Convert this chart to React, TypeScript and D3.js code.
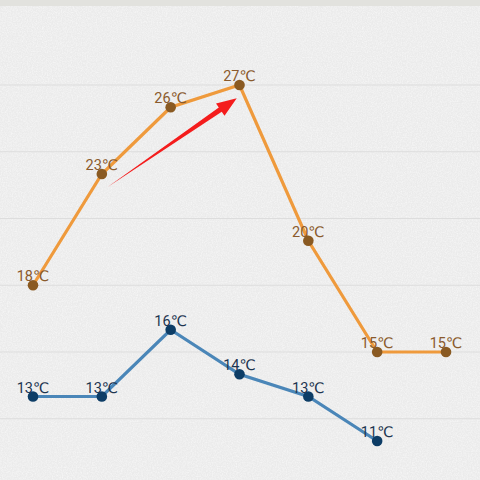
import React from 'react';
import * as d3 from 'd3';

const days = ['d1', 'd2', 'd3', 'd4', 'd5', 'd6', 'd7'];
const highTemps = [18, 23, 26, 27, 20, 15, 15];
const lowTemps = [13, 13, 16, 14, 13, 11];
const gridValues = [27, 24, 21, 18, 15, 12];
// arrow annotation: from (day index, temp) to (day index, temp)
const arrowFrom = { i: 1.08, v: 22.4 };
const arrowTo = { i: 2.96, v: 26.4 };

const W = 480;
const H = 480;

export default function App() {
  const x = d3.scalePoint<string>().domain(days).range([33, 446]);
  const y = d3.scaleLinear().domain([15, 27]).range([352, 85]);
  const xi = d3.scaleLinear().domain([0, days.length - 1]).range([33, 446]);

  const line = d3
    .line<number>()
    .x((_, i) => x(days[i])!)
    .y((d) => y(d));

  // arrow polygon
  const x0 = xi(arrowFrom.i), y0 = y(arrowFrom.v);
  const x1 = xi(arrowTo.i), y1 = y(arrowTo.v);
  const len = Math.hypot(x1 - x0, y1 - y0);
  const ux = (x1 - x0) / len, uy = (y1 - y0) / len;
  const nx = -uy, ny = ux;
  const headLen = 20, headW = 7.5, shaftW = 2.6;
  const bx = x1 - ux * headLen, by = y1 - uy * headLen;
  const arrowPts: [number, number][] = [
    [x0, y0],
    [bx + nx * shaftW, by + ny * shaftW],
    [bx + nx * headW, by + ny * headW],
    [x1, y1],
    [bx - nx * headW, by - ny * headW],
    [bx - nx * shaftW, by - ny * shaftW],
  ];

  const font = 'Roboto, "DejaVu Sans", sans-serif';

  return (
    <svg width={W} height={H} style={{ position: 'absolute', left: 0, top: 0 }}>
      <defs>
        <filter id="paper" x="0" y="0" width="100%" height="100%">
          <feTurbulence type="fractalNoise" baseFrequency="0.8" numOctaves="3" seed="4" result="noise" />
          <feColorMatrix
            in="noise"
            type="matrix"
            values="0 0 0 0 1  0 0 0 0 1  0 0 0 0 1  0 0 0 -1.6 1.05"
          />
        </filter>
      </defs>
      <rect width={W} height={H} fill="#ebebeb" />
      <rect width={W} height={H} filter="url(#paper)" opacity={0.6} />
      <rect width={W} height={6} fill="#e2e2de" />

      {gridValues.map((v) => (
        <line key={v} x1={0} x2={W} y1={y(v)} y2={y(v)} stroke="#dddddd" strokeWidth={1} />
      ))}

      <path d={line(highTemps)!} fill="none" stroke="#ef9a3c" strokeWidth={3.2} />
      <path d={line(lowTemps)!} fill="none" stroke="#4a86b8" strokeWidth={3.2} />

      <polygon points={arrowPts.map((p) => p.join(',')).join(' ')} fill="#f41c1c" />

      {highTemps.map((v, i) => (
        <g key={'h' + i}>
          <circle cx={x(days[i])} cy={y(v)} r={5.3} fill="#8a5a22" />
          <text
            x={x(days[i])}
            y={y(v) - 4}
            textAnchor="middle"
            fontFamily={font}
            fontSize={14.5}
            fill="#8a5a2c"
          >
            {v}℃
          </text>
        </g>
      ))}
      {lowTemps.map((v, i) => (
        <g key={'l' + i}>
          <circle cx={x(days[i])} cy={y(v)} r={5.3} fill="#0d3d66" />
          <text
            x={x(days[i])}
            y={y(v) - 4}
            textAnchor="middle"
            fontFamily={font}
            fontSize={14.5}
            fill="#1d3550"
          >
            {v}℃
          </text>
        </g>
      ))}
    </svg>
  );
}
